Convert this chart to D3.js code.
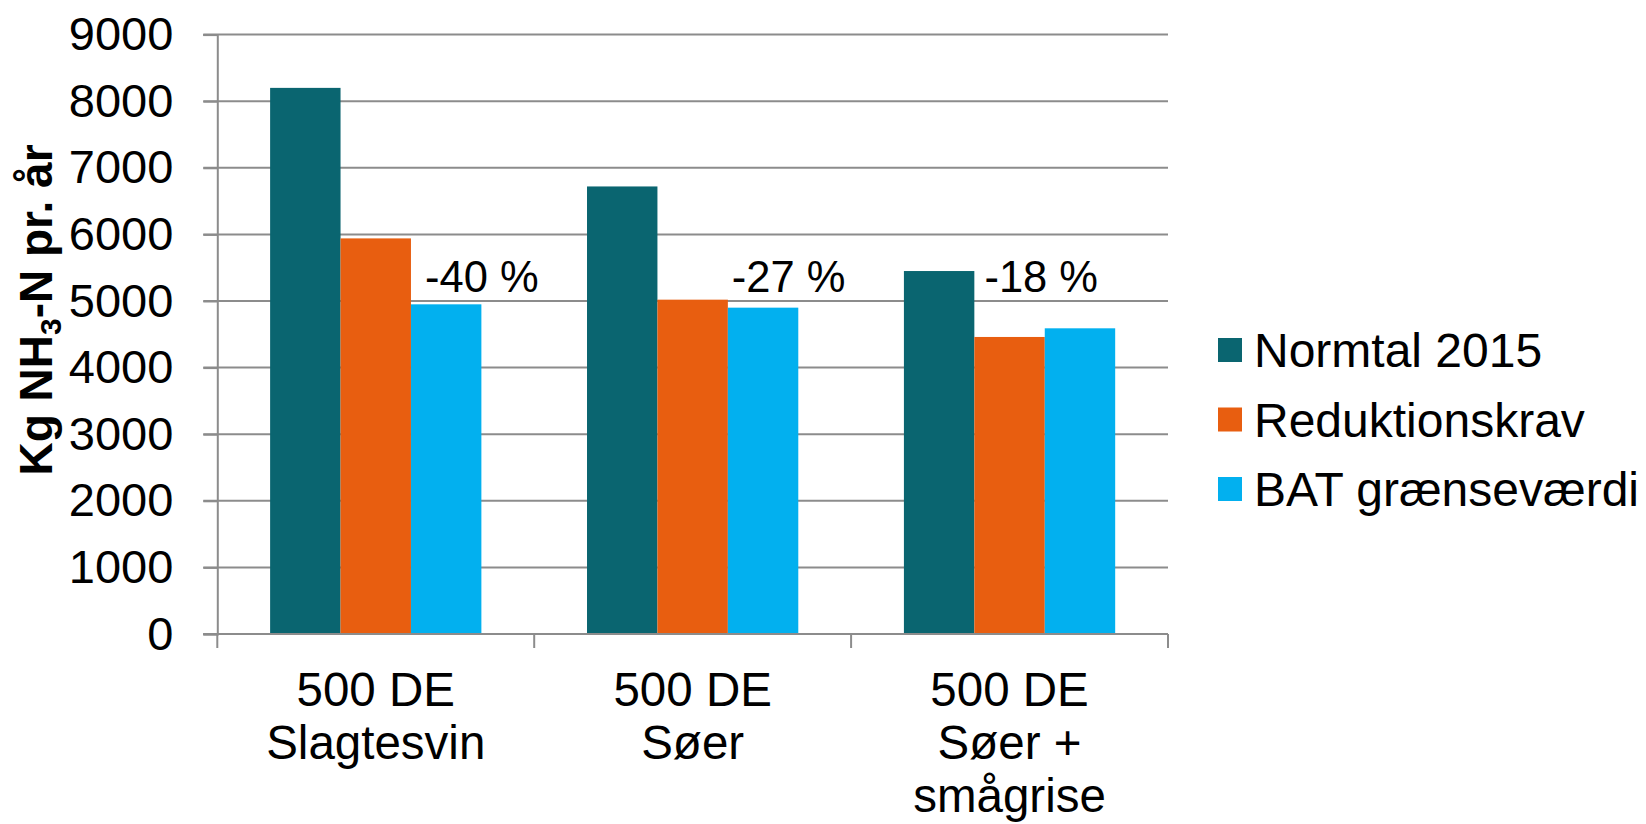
<!DOCTYPE html>
<html>
<head>
<meta charset="utf-8">
<script src="https://cdn.jsdelivr.net/npm/d3@7"></script>
<style>
  body { margin: 0; background: #fff; }
  svg { display: block; font-family: "Liberation Sans", Arial, sans-serif; }
</style>
</head>
<body>
<div id="chart"></div>
<script>
// data
var categories = [["500 DE", "Slagtesvin"], ["500 DE", "Søer"], ["500 DE", "Søer +", "smågrise"]];
var seriesNames = ["Normtal 2015", "Reduktionskrav", "BAT grænseværdi"];
var normtal = [8200, 6720, 5450];
var reduktion = [5940, 5020, 4460];
var bat = [4950, 4900, 4590];
var reductionLabels = ["-40 %", "-27 %", "-18 %"];
var labelPos = [0.835, 0.803, 0.6];   // where in each group the label sits
var yTicks = [0, 1000, 2000, 3000, 4000, 5000, 6000, 7000, 8000, 9000];
var colors = ["#0a6570", "#e85e10", "#02b0ef"];

var seriesValues = [normtal, reduktion, bat];

var width = 1646, height = 824;
var margin = {top: 34.6, right: 478, bottom: 190, left: 217.3};
var plotW = width - margin.left - margin.right;
var plotH = height - margin.top - margin.bottom;

var svg = d3.select("#chart")
            .append("svg")
            .attr("width", width)
            .attr("height", height);

var g = svg.append("g")
           .attr("transform", "translate(" + margin.left + "," + margin.top + ")");

var yScale = d3.scaleLinear()
               .domain([0, 9000])
               .range([plotH, 0]);

var x0 = d3.scaleBand()
           .domain(d3.range(categories.length))
           .range([0, plotW])
           .padding(0);

var x1 = d3.scaleBand()
           .domain(d3.range(seriesNames.length))
           .range([0, x0.bandwidth()])
           .paddingInner(0)
           .paddingOuter(0.75);

// gridlines
g.append("g")
 .selectAll("line")
 .data(yTicks)
 .enter()
 .append("line")
 .attr("x1", -14)
 .attr("x2", plotW)
 .attr("y1", function(d) { return yScale(d); })
 .attr("y2", function(d) { return yScale(d); })
 .style("stroke", "#8c8c8c")
 .style("stroke-width", 2);

// y axis
var yAxis = d3.axisLeft(yScale)
              .tickValues(yTicks)
              .tickSize(14)
              .tickPadding(30)
              .tickFormat(d3.format("d"));

g.append("g")
 .attr("class", "y axis")
 .call(yAxis)
 .call(function(s) {
   s.selectAll("path, line").style("stroke", "#8c8c8c").style("stroke-width", 2);
   s.selectAll("text").style("font-size", "47px").style("fill", "#000")
    .style("font-family", "'Liberation Sans', Arial, sans-serif");
 });

// bars
var groups = g.selectAll(".grp")
              .data(categories)
              .enter()
              .append("g")
              .attr("class", "grp")
              .attr("transform", function(d, i) { return "translate(" + x0(i) + ",0)"; });

groups.selectAll("rect")
      .data(function(d, i) {
        return seriesValues.map(function(vals, s) { return {s: s, v: vals[i]}; });
      })
      .enter()
      .append("rect")
      .attr("x", function(d) { return x1(d.s); })
      .attr("width", x1.bandwidth())
      .attr("y", function(d) { return yScale(d.v); })
      .attr("height", function(d) { return plotH - yScale(d.v); })
      .style("fill", function(d) { return colors[d.s]; });

// x axis line + ticks at group boundaries
g.append("line")
 .attr("x1", -14).attr("x2", plotW)
 .attr("y1", plotH).attr("y2", plotH)
 .style("stroke", "#8c8c8c").style("stroke-width", 2);

g.append("g")
 .selectAll("line")
 .data(d3.range(categories.length + 1))
 .enter()
 .append("line")
 .attr("x1", function(d) { return d * x0.step(); })
 .attr("x2", function(d) { return d * x0.step(); })
 .attr("y1", plotH)
 .attr("y2", plotH + 14)
 .style("stroke", "#8c8c8c").style("stroke-width", 2);

// category labels
g.append("g")
 .selectAll("text")
 .data(categories)
 .enter()
 .append("text")
 .attr("text-anchor", "middle")
 .style("font-size", "47.5px")
 .attr("transform", function(d, i) {
   return "translate(" + (x0(i) + x0.bandwidth() / 2) + "," + (plotH + 72) + ")";
 })
 .selectAll("tspan")
 .data(function(d) { return d; })
 .enter()
 .append("tspan")
 .attr("x", 0)
 .attr("y", function(d, i) { return i * 53; })
 .text(function(d) { return d; });

// reduction labels
g.append("g")
 .selectAll("text")
 .data(reductionLabels)
 .enter()
 .append("text")
 .attr("x", function(d, i) { return x0(i) + labelPos[i] * x0.bandwidth(); })
 .attr("y", yScale(5130))
 .attr("text-anchor", "middle")
 .style("font-size", "43.5px")
 .text(function(d) { return d; });

// y axis title
var title = svg.append("text")
               .attr("transform", "translate(52," + 310 + ") rotate(-90)")
               .attr("text-anchor", "middle")
               .style("font-size", "46px")
               .style("font-weight", "bold");
title.append("tspan").text("Kg NH");
title.append("tspan").text("3").style("font-size", "30px").attr("dy", 9);
title.append("tspan").text("-N pr. år").attr("dy", -9);

// legend
var legend = svg.append("g")
                .attr("transform", "translate(1218,338)");

var items = legend.selectAll("g")
                  .data(seriesNames)
                  .enter()
                  .append("g")
                  .attr("transform", function(d, i) { return "translate(0," + (i * 69.5) + ")"; });

items.append("rect")
     .attr("width", 24)
     .attr("height", 24)
     .style("fill", function(d, i) { return colors[i]; });

items.append("text")
     .attr("x", 36)
     .attr("y", 29)
     .style("font-size", "48px")
     .text(function(d) { return d; });
</script>
</body>
</html>
